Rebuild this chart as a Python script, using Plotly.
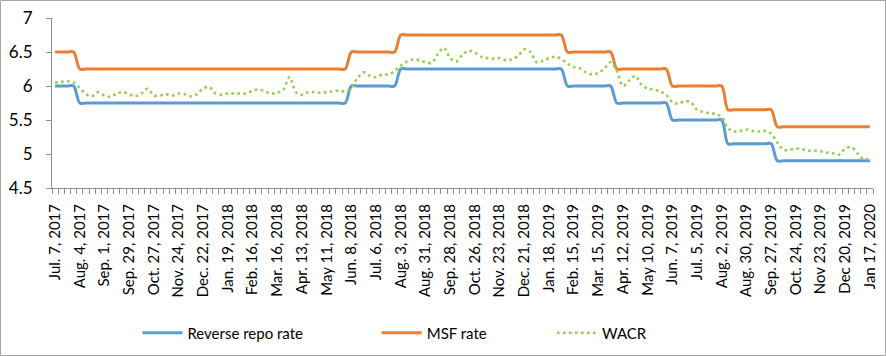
import plotly.graph_objects as go

# Weekly observations (index = week number starting Jul. 7, 2017)
reverse_repo = [
    6.0, 6.0, 6.0, 6.0,
    5.75, 5.75, 5.75, 5.75, 5.75, 5.75, 5.75, 5.75, 5.75, 5.75, 5.75, 5.75, 5.75, 5.75, 5.75, 5.75,
    5.75, 5.75, 5.75, 5.75, 5.75, 5.75, 5.75, 5.75, 5.75, 5.75, 5.75, 5.75, 5.75, 5.75, 5.75, 5.75,
    5.75, 5.75, 5.75, 5.75, 5.75, 5.75, 5.75, 5.75, 5.75, 5.75, 5.75, 5.75,
    6.0, 6.0, 6.0, 6.0, 6.0, 6.0, 6.0, 6.0,
    6.25, 6.25, 6.25, 6.25, 6.25, 6.25, 6.25, 6.25, 6.25, 6.25, 6.25, 6.25, 6.25, 6.25,
    6.25, 6.25, 6.25, 6.25, 6.25, 6.25, 6.25, 6.25, 6.25, 6.25, 6.25, 6.25, 6.25,
    6.0, 6.0, 6.0, 6.0, 6.0, 6.0, 6.0, 6.0,
    5.75, 5.75, 5.75, 5.75, 5.75, 5.75, 5.75, 5.75, 5.75,
    5.5, 5.5, 5.5, 5.5, 5.5, 5.5, 5.5, 5.5, 5.5,
    5.15, 5.15, 5.15, 5.15, 5.15, 5.15, 5.15, 5.15,
    4.9, 4.9, 4.9, 4.9, 4.9, 4.9, 4.9, 4.9, 4.9, 4.9, 4.9, 4.9, 4.9, 4.9, 4.9, 4.9,
]

msf_rate = [
    6.5, 6.5, 6.5, 6.5,
    6.25, 6.25, 6.25, 6.25, 6.25, 6.25, 6.25, 6.25, 6.25, 6.25, 6.25, 6.25, 6.25, 6.25, 6.25, 6.25,
    6.25, 6.25, 6.25, 6.25, 6.25, 6.25, 6.25, 6.25, 6.25, 6.25, 6.25, 6.25, 6.25, 6.25, 6.25, 6.25,
    6.25, 6.25, 6.25, 6.25, 6.25, 6.25, 6.25, 6.25, 6.25, 6.25, 6.25, 6.25,
    6.5, 6.5, 6.5, 6.5, 6.5, 6.5, 6.5, 6.5,
    6.75, 6.75, 6.75, 6.75, 6.75, 6.75, 6.75, 6.75, 6.75, 6.75, 6.75, 6.75, 6.75, 6.75,
    6.75, 6.75, 6.75, 6.75, 6.75, 6.75, 6.75, 6.75, 6.75, 6.75, 6.75, 6.75, 6.75,
    6.5, 6.5, 6.5, 6.5, 6.5, 6.5, 6.5, 6.5,
    6.25, 6.25, 6.25, 6.25, 6.25, 6.25, 6.25, 6.25, 6.25,
    6.0, 6.0, 6.0, 6.0, 6.0, 6.0, 6.0, 6.0, 6.0,
    5.65, 5.65, 5.65, 5.65, 5.65, 5.65, 5.65, 5.65,
    5.4, 5.4, 5.4, 5.4, 5.4, 5.4, 5.4, 5.4, 5.4, 5.4, 5.4, 5.4, 5.4, 5.4, 5.4, 5.4,
]

wacr = [
    6.05, 6.06, 6.07, 6.05, 5.97, 5.88, 5.85, 5.91, 5.86, 5.84,
    5.89, 5.91, 5.88, 5.85, 5.89, 5.96, 5.86, 5.86, 5.88, 5.86,
    5.89, 5.88, 5.85, 5.88, 5.97, 5.98, 5.89, 5.87, 5.89, 5.89,
    5.89, 5.89, 5.93, 5.95, 5.92, 5.89, 5.90, 5.95, 6.13, 5.91,
    5.87, 5.91, 5.91, 5.90, 5.91, 5.92, 5.93, 5.92, 5.97, 6.12,
    6.20, 6.15, 6.13, 6.17, 6.17, 6.22, 6.30, 6.36, 6.39, 6.38,
    6.35, 6.34, 6.47, 6.56, 6.41, 6.36, 6.46, 6.52, 6.49, 6.43,
    6.41, 6.40, 6.41, 6.38, 6.39, 6.44, 6.54, 6.50, 6.35, 6.37,
    6.41, 6.43, 6.40, 6.33, 6.28, 6.26, 6.20, 6.17, 6.19, 6.26,
    6.35, 6.22, 6.00, 6.08, 6.15, 6.02, 5.96, 5.95, 5.92, 5.87,
    5.76, 5.74, 5.78, 5.76, 5.65, 5.62, 5.60, 5.59, 5.54, 5.38,
    5.33, 5.34, 5.36, 5.34, 5.33, 5.34, 5.30, 5.17, 5.06, 5.06,
    5.08, 5.07, 5.05, 5.05, 5.04, 5.02, 5.01, 4.99, 5.08, 5.10,
    5.01, 4.92, 4.94,
]

tick_labels = [
    "Jul. 7, 2017", "Aug. 4, 2017", "Sep. 1, 2017", "Sep. 29, 2017", "Oct. 27, 2017",
    "Nov. 24, 2017", "Dec. 22, 2017", "Jan. 19, 2018", "Feb. 16, 2018", "Mar. 16, 2018",
    "Apr. 13, 2018", "May 11, 2018", "Jun. 8, 2018", "Jul. 6, 2018", "Aug. 3, 2018",
    "Aug. 31, 2018", "Sep. 28, 2018", "Oct. 26, 2018", "Nov. 23, 2018", "Dec. 21, 2018",
    "Jan. 18, 2019", "Feb. 15, 2019", "Mar. 15, 2019", "Apr. 12, 2019", "May 10, 2019",
    "Jun. 7, 2019", "Jul. 5, 2019", "Aug. 2, 2019", "Aug. 30, 2019", "Sep. 27, 2019",
    "Oct. 24, 2019", "Nov 23, 2019", "Dec 20, 2019", "Jan 17, 2020",
]
tick_every = 4

weeks = list(range(len(wacr)))
tick_positions = weeks[::tick_every]

FONT = "Lato, 'Liberation Sans', sans-serif"
AXIS_GREY = "#8c8c8c"

fig = go.Figure()
fig.add_trace(go.Scatter(
    x=weeks, y=reverse_repo, name="Reverse repo rate", mode="lines",
    line=dict(color="#5B9BD5", width=3, shape="spline", smoothing=0.9),
    legend="legend",
))
fig.add_trace(go.Scatter(
    x=weeks, y=msf_rate, name="MSF rate", mode="lines",
    line=dict(color="#ED7D31", width=3, shape="spline", smoothing=0.9),
    legend="legend2",
))
fig.add_trace(go.Scatter(
    x=weeks, y=wacr, name="WACR", mode="lines",
    line=dict(color="#92D050", width=2.6, dash="2.6px,3.4px", shape="spline", smoothing=0.9),
    legend="legend3",
))

legend_common = dict(
    orientation="h", yanchor="middle", xanchor="left", y=-0.853,
    font=dict(family=FONT, size=15, color="#000000"),
    bgcolor="rgba(0,0,0,0)", itemwidth=40,
)

fig.update_layout(
    width=886, height=356,
    margin=dict(l=52, r=13, t=18, b=168, pad=0, autoexpand=False),
    paper_bgcolor="white", plot_bgcolor="white",
    font=dict(family=FONT, color="#000000"),
    showlegend=True,
    legend=dict(x=0.104, **legend_common),
    legend2=dict(x=0.3955, **legend_common),
    legend3=dict(x=0.609, **legend_common),
    xaxis=dict(
        range=[-0.5, len(wacr) - 0.5], automargin=False,
        tickmode="array", tickvals=tick_positions, ticktext=tick_labels,
        tickangle=-90, tickfont=dict(family=FONT, size=15, color="#000000"),
        ticks="outside", ticklen=5, tickcolor="rgba(0,0,0,0)",
        ticklabelstandoff=4,
        showline=True, linecolor=AXIS_GREY, linewidth=1,
        showgrid=False, zeroline=False,
        minor=dict(ticks="outside", tickmode="linear", tick0=-0.5, dtick=1,
                   ticklen=5, tickcolor=AXIS_GREY, tickwidth=1, showgrid=False),
    ),
    yaxis=dict(
        range=[4.5, 7], tickmode="linear", tick0=4.5, dtick=0.5, automargin=False,
        tickfont=dict(family=FONT, size=17, color="#000000"),
        ticks="outside", ticklen=5, tickcolor=AXIS_GREY,
        ticklabelstandoff=10,
        showline=True, linecolor=AXIS_GREY, linewidth=1,
        showgrid=False, zeroline=False,
    ),
    shapes=[dict(
        type="rect", xref="paper", yref="paper",
        x0=(0.5 - 52) / 821, x1=(885.5 - 52) / 821,
        y0=(188 - 355.5) / 170, y1=(188 - 0.5) / 170,
        line=dict(color="#a6a6a6", width=1), fillcolor="rgba(0,0,0,0)",
        layer="below",
    )],
)

fig.write_html(
    "out.html",
    config={"displayModeBar": False},
    post_script="document.body.style.margin='0';",
)
